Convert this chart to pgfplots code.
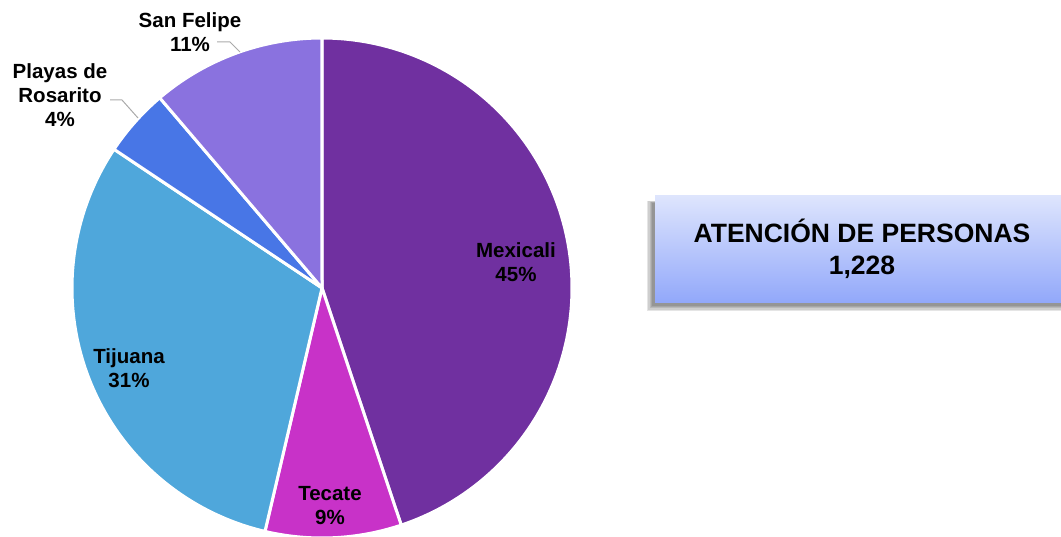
\documentclass[border=0pt]{standalone}
\usepackage{fontspec}
\setmainfont{Liberation Sans}
\usepackage{pgfplots}
\pgfplotsset{compat=1.18}
\usepackage{pgfplotstable}

\definecolor{cMex}{RGB}{112,48,160}
\definecolor{cTec}{RGB}{200,50,200}
\definecolor{cTij}{RGB}{79,167,219}
\definecolor{cPla}{RGB}{72,118,230}
\definecolor{cSan}{RGB}{138,114,223}
\definecolor{cLead}{RGB}{170,170,170}
\definecolor{boxTop}{RGB}{222,229,253}
\definecolor{boxBot}{RGB}{146,168,250}

\tikzset{pielab/.style={font=\bfseries\fontsize{20.5}{24}\selectfont, align=center, text=black}}

\pgfplotstableread{
name count
Mexicali 551
Tecate 108
Tijuana 377
Playas 54
SanFelipe 138
}\piedata

\begin{document}
\begin{tikzpicture}
\useasboundingbox (0,0) rectangle (1061pt,536pt);
\pgfplotstablegetelem{0}{count}\of\piedata \let\cA\pgfplotsretval
\pgfplotstablegetelem{1}{count}\of\piedata \let\cB\pgfplotsretval
\pgfplotstablegetelem{2}{count}\of\piedata \let\cC\pgfplotsretval
\pgfplotstablegetelem{3}{count}\of\piedata \let\cD\pgfplotsretval
\pgfplotstablegetelem{4}{count}\of\piedata \let\cE\pgfplotsretval
\pgfmathsetmacro{\tot}{\cA+\cB+\cC+\cD+\cE}
\pgfmathsetmacro{\aO}{90}
\pgfmathsetmacro{\aA}{\aO-360*(\cA/\tot)}
\pgfmathsetmacro{\aB}{\aA-360*(\cB/\tot)}
\pgfmathsetmacro{\aC}{\aB-360*(\cC/\tot)}
\pgfmathsetmacro{\aD}{\aC-360*(\cD/\tot)}
\pgfmathsetmacro{\aE}{\aD-360*(\cE/\tot)}
\begin{axis}[
  x=1pt, y=1pt,
  xmin=0, xmax=1061, ymin=-536, ymax=0,
  hide axis,
  at={(0,0)}, anchor=south west,
  every axis plot/.append style={draw=white, line width=3pt, line join=round, samples=120},
]
\addplot[fill=cMex, domain=\aA:\aO] ({322+250*cos(x)},{-288+250*sin(x)}) -- (axis cs:322,-288) -- cycle;
\addplot[fill=cTec, domain=\aB:\aA] ({322+250*cos(x)},{-288+250*sin(x)}) -- (axis cs:322,-288) -- cycle;
\addplot[fill=cTij, domain=\aC:\aB] ({322+250*cos(x)},{-288+250*sin(x)}) -- (axis cs:322,-288) -- cycle;
\addplot[fill=cPla, domain=\aD:\aC] ({322+250*cos(x)},{-288+250*sin(x)}) -- (axis cs:322,-288) -- cycle;
\addplot[fill=cSan, domain=\aE:\aD] ({322+250*cos(x)},{-288+250*sin(x)}) -- (axis cs:322,-288) -- cycle;

\node[pielab] at (axis cs:516,-262) {Mexicali\\45\%};
\node[pielab] at (axis cs:330,-506) {Tecate\\9\%};
\node[pielab] at (axis cs:129,-368) {Tijuana\\31\%};
\node[pielab] at (axis cs:60,-95) {Playas de\\Rosarito\\4\%};
\node[pielab] at (axis cs:190,-32) {San Felipe\\11\%};

\draw[cLead, line width=1pt] (axis cs:217,-42) -- (axis cs:230,-42) -- (axis cs:240,-52);
\draw[cLead, line width=1pt] (axis cs:110,-100) -- (axis cs:122,-100) -- (axis cs:138,-118);

% soft shadow behind the box
\pgfplotsinvokeforeach{0,1.2,2.4,3.6,4.8}{
  \fill[black, opacity=0.1] (axis cs:652-#1,-203+0.5*#1) rectangle (axis cs:1066+#1,-306-#1);
}
\node[top color=boxTop, bottom color=boxBot, minimum width=414pt, minimum height=107pt,
  inner sep=0pt, align=center, font=\bfseries\fontsize{26.5}{32}\selectfont]
  at (axis cs:862,-249) {ATENCIÓN DE PERSONAS\\1,228};
\end{axis}
\end{tikzpicture}
\end{document}
